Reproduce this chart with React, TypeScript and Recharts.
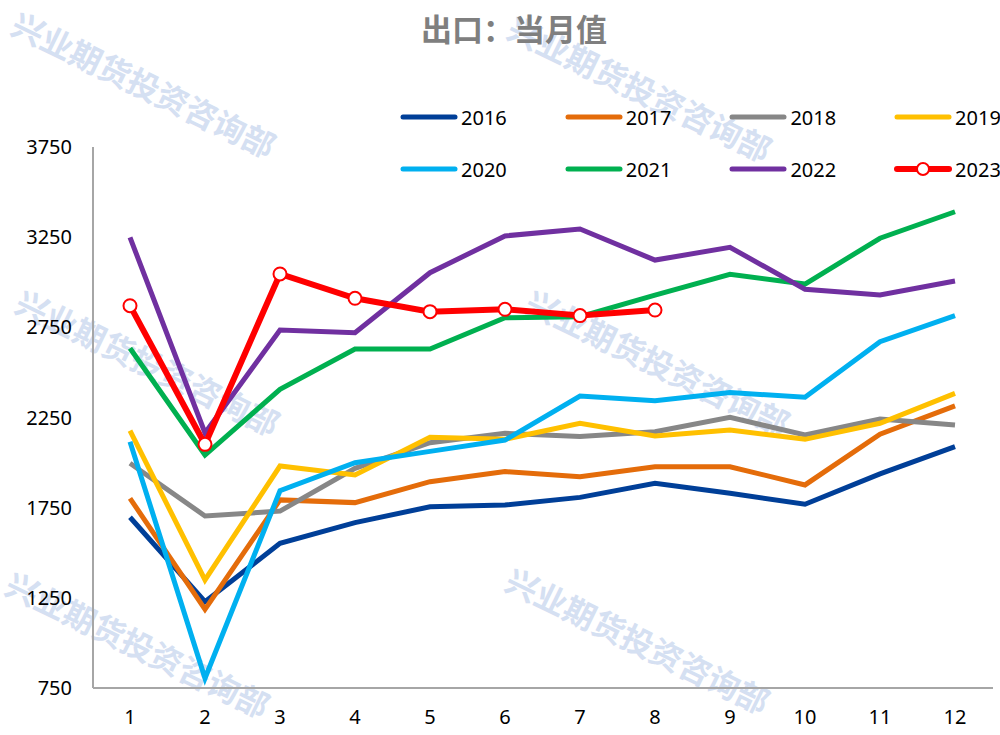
import React from 'react';
import { LineChart, Line, XAxis, YAxis } from 'recharts';

const months = [1, 2, 3, 4, 5, 6, 7, 8, 9, 10, 11, 12];
const yTicks = [750, 1250, 1750, 2250, 2750, 3250, 3750];

const s2016 = [1697, 1229, 1552, 1667, 1755, 1765, 1807, 1885, 1830, 1769, 1937, 2088];
const s2017 = [1802, 1186, 1793, 1778, 1894, 1950, 1922, 1977, 1977, 1876, 2157, 2314];
const s2018 = [1996, 1704, 1731, 1968, 2110, 2162, 2144, 2171, 2251, 2153, 2242, 2208];
const s2019 = [2177, 1349, 1981, 1931, 2140, 2129, 2218, 2147, 2181, 2129, 2218, 2384];
const s2020 = [2116, 804, 1844, 1999, 2062, 2125, 2369, 2343, 2388, 2362, 2670, 2815];
const s2021 = [2634, 2042, 2406, 2630, 2630, 2803, 2809, 2929, 3044, 2990, 3244, 3391];
const s2022 = [3249, 2164, 2735, 2720, 3053, 3257, 3295, 3123, 3194, 2961, 2929, 3007];
const s2023 = [2870, 2101, 3046, 2911, 2837, 2850, 2815, 2846];

const seriesNames = ['2016', '2017', '2018', '2019', '2020', '2021', '2022', '2023'];
const seriesValues = [s2016, s2017, s2018, s2019, s2020, s2021, s2022, s2023];
const seriesColors = ['#003F98', '#E46C0A', '#878787', '#FFC000', '#00B0F0', '#00B050', '#7030A0', '#FF0000'];

const data = months.map((m, i) => {
  const row: Record<string, number | undefined> = { month: m };
  seriesNames.forEach((n, k) => {
    row[n] = seriesValues[k][i];
  });
  return row;
});

const FONT = '"Noto Sans", "Noto Sans CJK SC", sans-serif';

const watermarks = [
  { left: 22, top: 6 },
  { left: 518, top: 10 },
  { left: 26, top: 284 },
  { left: 536, top: 284 },
  { left: 16, top: 566 },
  { left: 516, top: 562 },
];

const LegendBlock = () => (
  <div style={{ position: 'absolute', left: 400, top: 102, width: 620, height: 90 }}>
    {seriesNames.map((n, k) => {
      const col = k % 4;
      const row = Math.floor(k / 4);
      return (
        <div
          key={n}
          style={{
            position: 'absolute',
            left: col * 164.7,
            top: row * 52,
            height: 30,
            display: 'flex',
            alignItems: 'center',
            fontFamily: FONT,
            fontSize: 20,
            color: '#000',
            whiteSpace: 'nowrap',
          }}
        >
          <svg width={58} height={16} style={{ marginRight: 3 }}>
            <line x1={3} y1={8} x2={55} y2={8} stroke={seriesColors[k]} strokeWidth={n === '2023' ? 6 : 5} strokeLinecap="round" />
            {n === '2023' && <circle cx={29} cy={8} r={6} fill="#fff" stroke="#FF0000" strokeWidth={2} />}
          </svg>
          <span>{n}</span>
        </div>
      );
    })}
  </div>
);

export default function App() {
  return (
    <div style={{ position: 'absolute', left: 0, top: 0, width: 1000, height: 735, background: '#fff', overflow: 'hidden' }}>
      {watermarks.map((w, i) => (
        <div
          key={i}
          style={{
            position: 'absolute',
            left: w.left,
            top: w.top,
            transformOrigin: 'left top',
            transform: 'rotate(26deg)',
            fontFamily: '"Noto Sans CJK SC", sans-serif',
            fontWeight: 700,
            fontSize: 32,
            lineHeight: '32px',
            color: '#D5E0F2',
            whiteSpace: 'nowrap',
            letterSpacing: 0,
          }}
        >
          兴业期货投资咨询部
        </div>
      ))}
      <div
        style={{
          position: 'absolute',
          left: 0,
          top: 9,
          width: 1028,
          textAlign: 'center',
          fontFamily: '"Noto Sans CJK SC", sans-serif',
          fontWeight: 700,
          fontSize: 31,
          lineHeight: '38px',
          color: '#7F7F7F',
        }}
      >
        出口：当月值
      </div>
      <LegendBlock />
      <div style={{ position: 'absolute', left: 0, top: 0 }}>
        <LineChart width={1000} height={735} data={data} margin={{ top: 147, right: 7, bottom: 0, left: 0 }}>
          <XAxis
            dataKey="month"
            type="category"
            padding={{ left: 37, right: 38 }}
            height={47}
            tickLine={false}
            tickSize={0}
            tickMargin={22}
            axisLine={{ stroke: '#A6A6A6', strokeWidth: 2 }}
            tick={{ fill: '#000', fontSize: 20, fontFamily: FONT }}
            interval={0}
          />
          <YAxis
            type="number"
            domain={[750, 3750]}
            ticks={yTicks}
            width={93}
            tickLine={false}
            tickSize={0}
            tickMargin={21}
            axisLine={{ stroke: '#A6A6A6', strokeWidth: 2 }}
            tick={{ fill: '#000', fontSize: 20, fontFamily: FONT }}
            allowDataOverflow
          />
          {seriesNames.map((n, k) =>
            n === '2023' ? (
              <Line
                key={n}
                dataKey={n}
                stroke={seriesColors[k]}
                strokeWidth={6}
                dot={{ r: 6.5, fill: '#fff', stroke: '#FF0000', strokeWidth: 2 }}
                activeDot={false}
                isAnimationActive={false}
                connectNulls={false}
              />
            ) : (
              <Line
                key={n}
                dataKey={n}
                stroke={seriesColors[k]}
                strokeWidth={5}
                dot={false}
                activeDot={false}
                isAnimationActive={false}
              />
            )
          )}
        </LineChart>
      </div>
    </div>
  );
}
